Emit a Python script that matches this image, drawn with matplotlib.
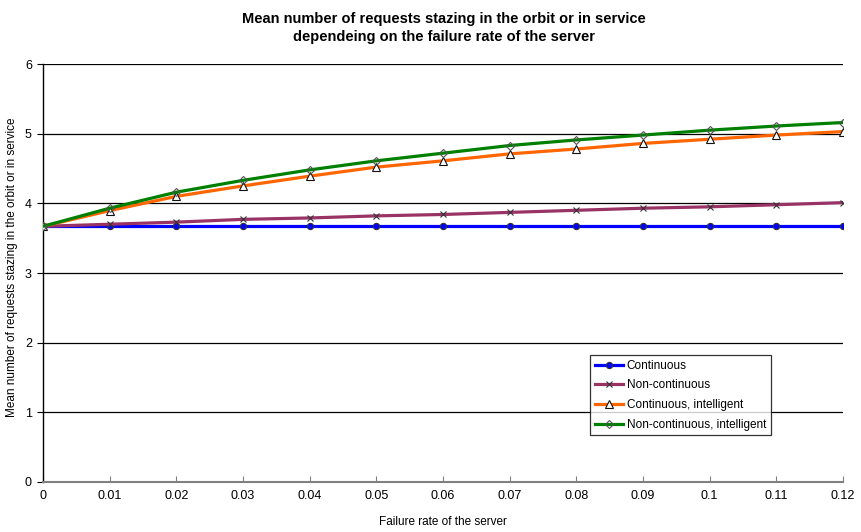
import matplotlib
matplotlib.use("Agg")
import matplotlib.pyplot as plt

plt.rcParams['font.family'] = ['Liberation Sans', 'DejaVu Sans']

x = [0, 0.01, 0.02, 0.03, 0.04, 0.05, 0.06, 0.07, 0.08, 0.09, 0.10, 0.11, 0.12]
continuous = [3.67] * 13
non_continuous = [3.67, 3.70, 3.73, 3.77, 3.79, 3.82, 3.84, 3.87, 3.90, 3.93, 3.95, 3.98, 4.01]
cont_intel = [3.67, 3.895, 4.10, 4.25, 4.39, 4.52, 4.61, 4.71, 4.78, 4.86, 4.92, 4.98, 5.03]
noncont_intel = [3.67, 3.93, 4.16, 4.33, 4.48, 4.61, 4.72, 4.83, 4.91, 4.98, 5.05, 5.11, 5.16]
xticks = [0, 0.01, 0.02, 0.03, 0.04, 0.05, 0.06, 0.07, 0.08, 0.09, 0.1, 0.11, 0.12]
xticklabels = ['0', '0.01', '0.02', '0.03', '0.04', '0.05', '0.06', '0.07', '0.08', '0.09', '0.1', '0.11', '0.12']
yticks = [0, 1, 2, 3, 4, 5, 6]

fig = plt.figure(figsize=(8.62, 5.32), dpi=100)
ax = fig.add_axes([43/862, 50/532, 800/862, 418/532])

ax.plot(x, continuous, color='#0000FF', lw=2.3, marker='o', ms=4.5,
        mfc='#0000FF', mec='#333333', mew=0.8, label='Continuous', zorder=3)
ax.plot(x, non_continuous, color='#993366', lw=2.3, marker='x', ms=5,
        mec='#333333', mew=0.8, label='Non-continuous', zorder=3)
ax.plot(x, cont_intel, color='#FF6600', lw=2.3, marker='^', ms=6,
        mfc='white', mec='#111111', mew=0.8, label='Continuous, intelligent', zorder=3)
ax.plot(x, noncont_intel, color='#008000', lw=2.3, marker='D', ms=4.5,
        mfc='none', mec='#555555', mew=0.8, label='Non-continuous, intelligent', zorder=4)

ax.set_xlim(0, 0.12)
ax.set_ylim(0, 6)
ax.set_xticks(xticks)
ax.set_xticklabels(xticklabels)
ax.set_yticks(yticks)
for yv in yticks[1:]:
    ax.axhline(yv, color='black', lw=0.9, zorder=1)

for s in ['top', 'right']:
    ax.spines[s].set_visible(False)
ax.spines['left'].set_color('black')
ax.spines['left'].set_linewidth(1.0)
ax.spines['bottom'].set_color('#808080')
ax.spines['bottom'].set_linewidth(1.5)

ax.tick_params(axis='x', direction='in', length=4, color='#808080', labelsize=9, pad=6)
ax.tick_params(axis='y', direction='out', length=4, color='black', labelsize=9, pad=4)

ax.set_xlabel('Failure rate of the server', fontsize=8.5, labelpad=10)
fig.text(12/862, 1 - 267/532, 'Mean number of requests stazing in the orbit or in service',
         rotation=90, ha='center', va='center', fontsize=8.5)
fig.text(444/862, 1 - 28/532,
         'Mean number of requests stazing in the orbit or in service\ndependeing on the failure rate of the server',
         ha='center', va='center', fontsize=10.5, fontweight='bold', linespacing=1.45)

leg = ax.legend(loc='upper left', bbox_to_anchor=((590-43)/800, (482-355)/418),
                fontsize=8.5, frameon=True, fancybox=False, edgecolor='black',
                borderpad=0.4, handlelength=2.4, handletextpad=0.3,
                labelspacing=0.65, borderaxespad=0)
leg.get_frame().set_linewidth(0.9)

fig.savefig('out.png', dpi=100)
